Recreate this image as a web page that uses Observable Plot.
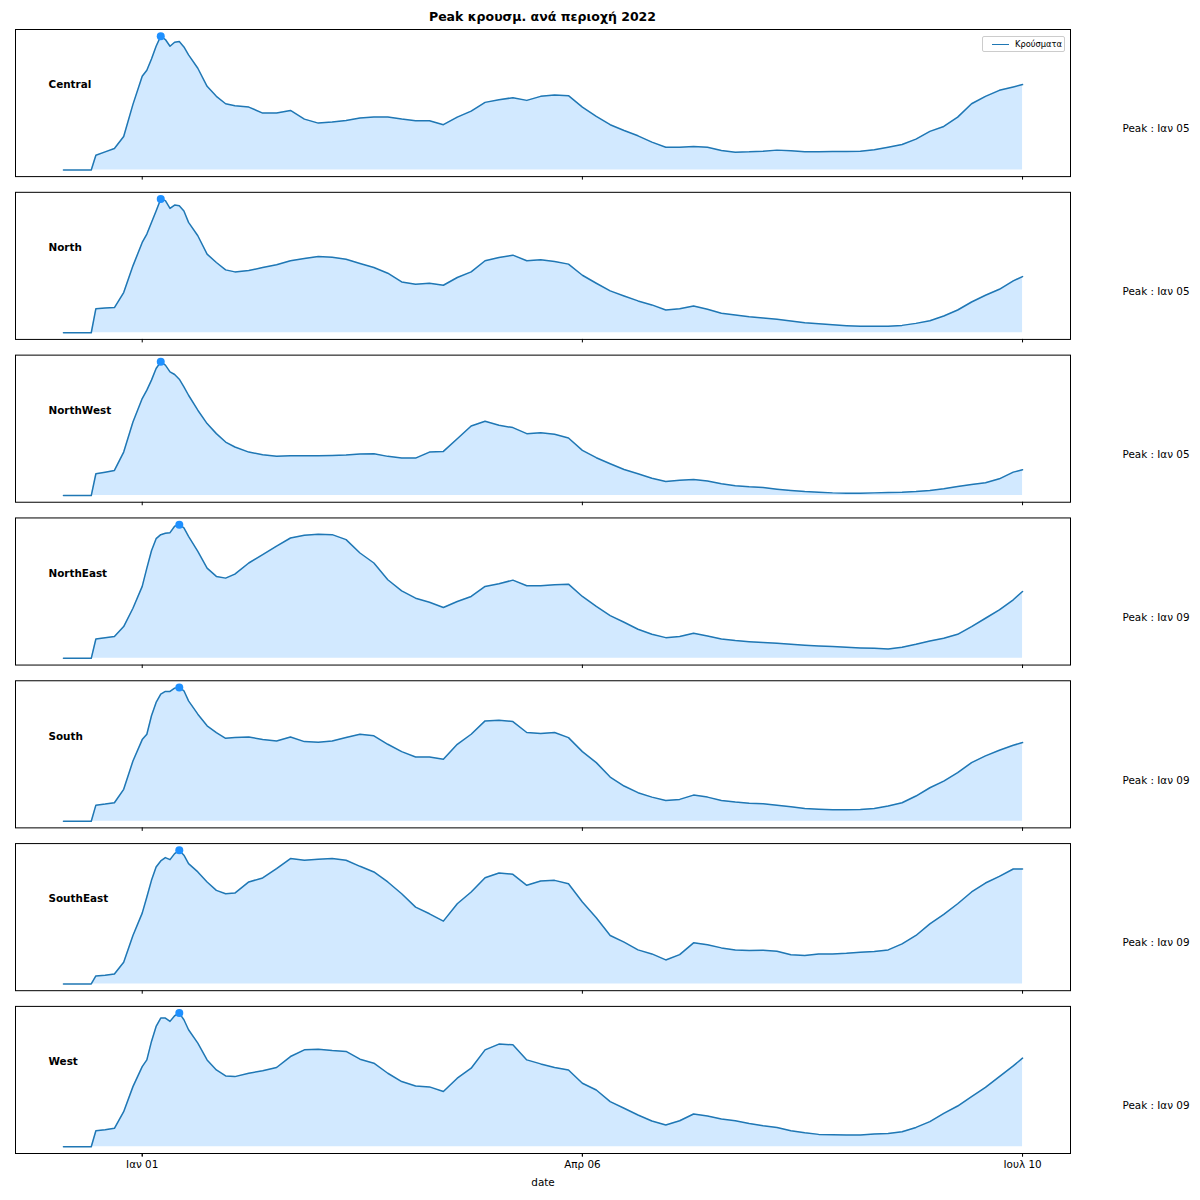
<!DOCTYPE html>
<html>
<head>
<meta charset="utf-8">
<script src="https://cdn.jsdelivr.net/npm/d3@7"></script>
<script src="https://cdn.jsdelivr.net/npm/@observablehq/plot@0.6"></script>
<style>
  body { margin: 0; background: #fff; font-family: "DejaVu Sans", sans-serif; }
  #wrap { position: relative; width: 1200px; height: 1200px; }
  #title { position: absolute; left: 15px; width: 1055px; top: 10px; text-align: center; font-weight: bold; font-size: 12.5px; line-height: 14px; color: #000; }
  #chart { position: absolute; left: 0; top: 28px; }
  #legend { position: absolute; left: 982px; top: 36px; width: 83px; height: 16px; border: 1px solid #cccccc; border-radius: 2px; background: rgba(255,255,255,0.8); box-sizing: border-box; font-size: 8.3px; color: #000; }
  #legend .sw { position: absolute; left: 9px; top: 6.5px; width: 17px; height: 1.5px; background: #1f77b4; }
  #legend .lb { position: absolute; left: 32px; top: 1px; line-height: 12px; white-space: nowrap; }
</style>
</head>
<body>
<div id="wrap">
  <div id="title">Peak κρουσμ. ανά περιοχή 2022</div>
  <div id="chart"></div>
  <div id="legend"><div class="sw"></div><div class="lb">Κρούσματα</div></div>
</div>
<script>
// Regions (facets), top to bottom
const regions = ["Central", "North", "NorthWest", "NorthEast", "South", "SouthEast", "West"];

// Day offsets from 2022-01-01 at which values were read
const days = [-17,-11,-10,-8,-6,-4,-2,
  0,1,2,3,4,5,6,7,8,9,10,
  12,14,16,18,20,
  23,26,29,32,35,38,41,44,47,50,
  53,56,59,62,65,68,71,74,77,80,
  83,86,89,92,95,98,101,104,107,110,
  113,116,119,122,125,128,131,134,137,140,
  143,146,149,152,155,158,161,164,167,170,
  173,176,179,182,185,188,190];

// Cases, relative to each region's own peak (= 100)
const central = [0,0,11,13.5,16,25,49,
  70,74.5,83,92.5,100,97.5,92.5,95.5,96,92,86,
  76,62.5,55,49.5,48,
  47,42.5,42.5,44.5,38,35,35.8,37,38.8,39.5,
  39.5,38,36.8,36.8,33.8,39.5,44,50.5,52.5,54,
  52,55,56,55.5,47,40,33.8,29.5,25.5,20.8,
  17,17,17.5,17,14.5,13.3,13.5,14,14.8,14.3,
  13.5,13.5,13.8,13.8,14,15,17,19,23,28.8,
  32.5,39.5,49.5,55,59.5,62,63.8];

const north = [0,0,18,18.5,18.8,30,50,
  67.5,73.8,82.5,91,100,98.8,93,95.5,95,91,82.5,
  72.5,58.8,52.5,47,45.5,
  46.5,48.8,50.8,53.8,55.5,57,56.5,55,51.8,48.8,
  44.5,38,36.3,37,35.5,41.3,45.5,53.8,56.3,58,
  53.8,54.5,53.3,51.3,43,37,31.3,27.5,23.8,20.8,
  17,18,20,17.5,14.5,13.3,12,11,10,8.8,
  7.5,6.8,6,5.3,4.8,4.8,4.8,5.5,7,9,
  12.5,17,23,28,32.5,38.8,42];

const northWest = [0,0,16.3,17.5,18.8,32.5,55,
  72.5,78.8,86.3,95,100,97.5,92.5,90.5,87,81.3,75,
  63.8,53.8,46.3,40,36.3,
  32.5,30.5,29.3,29.8,29.8,29.8,30,30.3,31,31.3,
  29.3,28,28,32.5,33,42.5,52,55.5,52.5,50.8,
  46.3,47,45.8,43,33.8,28.3,23.8,19.5,16.3,13,
  10.5,11.5,12,10.8,8.8,7.3,6.5,6,4.8,3.8,
  3,2.5,2,1.8,1.8,2,2.3,2.5,3,3.8,
  5,6.8,8.3,9.5,12.5,17.5,19.3];

const northEast = [0,0,14.5,15.5,16.3,23.8,37.5,
  53.8,67.5,80.5,89.5,92.5,93.5,94,98.8,100,97.5,91.3,
  80,67.5,61.3,60,63,
  71.3,77.5,84,90,92,92.8,92.5,88.8,78.8,71.3,
  58.8,50.5,45,42,38,42.5,46.3,53.8,55.8,58.5,
  54.3,54.3,55,55.5,46.3,38.8,32,27,21.8,18,
  15.5,16.3,18.8,16.8,14.5,13.3,12.5,11.8,11.3,10.5,
  9.8,9.3,8.8,8.3,7.8,7.5,7,8.3,10.5,13,
  15,18,23.8,30,36.3,43.8,50];

const south = [0,0,12,12.8,13.8,23.8,45,
  61,65,78.8,88.8,95,97,97,99.5,100,97.5,90,
  80,71.3,66.3,62,62.5,
  63,61,60,63,59.5,59,60,62.5,65,63.8,
  57.5,52,48,48,46.3,57.5,65,75,75.5,74.5,
  66.3,65.5,66.3,62.5,52,43.8,33,26.3,21.3,18,
  15.5,16.3,19.5,18,15.5,14.3,13.5,13,12,10.8,
  9.5,9,8.5,8.5,8.8,9.5,11.3,13.8,18.8,25,
  30,36.3,43.8,48.8,53,56.8,58.8];

const southEast = [0,0,6,6.5,7.5,16.3,36.3,
  53,65,77.5,87.5,92,94.5,93,97.5,100,96.3,90,
  83.8,76.3,70,67.5,68,
  76.3,79.3,86.3,93.8,92.5,93.3,93.8,92.5,88,83.8,
  76.3,67.5,57.5,52.5,47,60,68.8,79.5,83,82,
  73.8,77,77.5,75,61.3,49.5,36.3,31.3,25.5,22.5,
  18,22,30.8,29.3,27,25.5,25,25.3,24.5,21.8,
  21.3,22.5,22.5,23,23.8,24.3,25.5,30,36.3,45,
  52,60,68.8,75.5,80.5,86,86];

const west = [0,0,12,12.8,13.8,26.3,45,
  60,65,78.8,90,96.3,96.3,93.8,98,100,95,87.5,
  77.5,65,57.5,53,52.5,
  55,56.8,59.3,67.5,72.5,73,72,71.3,65.5,62.5,
  55,48.8,45.5,44.8,41.3,51.3,58.8,72.5,76.8,76.3,
  65,62,59.3,57.5,47.5,42.5,33.8,28.8,23.8,19.3,
  16.3,19.5,24.5,23,20.8,19.5,17.5,15.8,14.5,12,
  10.5,9.3,9,8.8,8.8,9.5,10,11.3,14.5,18.8,
  25,30.5,37.5,44.5,52.5,60.5,66.3];

// Axis ticks and labels
const tickDates = ["2022-01-01", "2022-04-06", "2022-07-10"];
const tickLabels = ["Ιαν 01", "Απρ 06", "Ιουλ 10"];
const monthNames = ["Ιαν","Φεβ","Μαρ","Απρ","Μαΐ","Ιουν","Ιουλ","Αυγ","Σεπ","Οκτ","Νοε","Δεκ"];

const base = Date.UTC(2022, 0, 1);
const toDate = d => new Date(base + d * 864e5);
const seriesList = [central, north, northWest, northEast, south, southEast, west];

const rows = regions.flatMap((r, k) => seriesList[k].map((v, i) => ({region: r, date: toDate(days[i]), value: v})));
const peaks = regions.map((r, k) => {
  const s = seriesList[k];
  const i = d3.maxIndex(s);
  return {region: r, date: toDate(days[i]), value: s[i]};
});
const fmtDate = d => `${monthNames[d.getUTCMonth()]} ${String(d.getUTCDate()).padStart(2, "0")}`;

const [d0, d1] = d3.extent(rows, d => d.date);
const xPad = (d1 - d0) * 0.05;
const xDomain = [new Date(+d0 - xPad), new Date(+d1 + xPad)];
const vMax = d3.max(rows, d => d.value);
const yDomain = [-0.05 * vMax, 1.05 * vMax];
const ticks = tickDates.map(s => new Date(s + "T00:00:00Z"));
const fmtTick = t => tickLabels[ticks.findIndex(u => +u === +t)];

const chart = Plot.plot({
  width: 1200,
  height: 1172,
  marginTop: 1,
  marginBottom: 47,
  marginLeft: 15,
  marginRight: 130,
  style: {fontFamily: "DejaVu Sans", fontSize: "10.4px", color: "black", background: "white"},
  x: {type: "utc", domain: xDomain},
  y: {domain: yDomain, axis: null},
  fy: {domain: regions, axis: null, paddingInner: 0.0965, paddingOuter: 0, round: false},
  marks: [
    Plot.areaY(rows, {x: "date", y1: 0, y2: "value", fy: "region", fill: "#1e90ff", fillOpacity: 0.2}),
    Plot.lineY(rows, {x: "date", y: "value", fy: "region", stroke: "#1f77b4", strokeWidth: 1.5}),
    Plot.dot(peaks, {x: "date", y: "value", fy: "region", r: 4, fill: "#1e90ff"}),
    Plot.frame({stroke: "black", strokeWidth: 1}),
    Plot.text(regions, {fy: d => d, text: d => d, frameAnchor: "left", dx: 33, dy: -18, textAnchor: "start", fontWeight: "bold", fontSize: 10.4}),
    Plot.text(peaks, {fy: "region", text: d => `Peak : ${fmtDate(d.date)}`, frameAnchor: "right", dx: 52, dy: 26, textAnchor: "start", fontSize: 10.4}),
    Plot.axisX(ticks, {tickSize: 3.5, tickFormat: () => "", facetAnchor: null, label: null}),
    Plot.axisX(ticks, {tickSize: 3.5, tickPadding: 3.5, tickFormat: fmtTick, fontSize: 10.4, label: "date", labelAnchor: "center", labelArrow: "none", labelOffset: 32})
  ]
});
document.getElementById("chart").appendChild(chart);
</script>
</body>
</html>
